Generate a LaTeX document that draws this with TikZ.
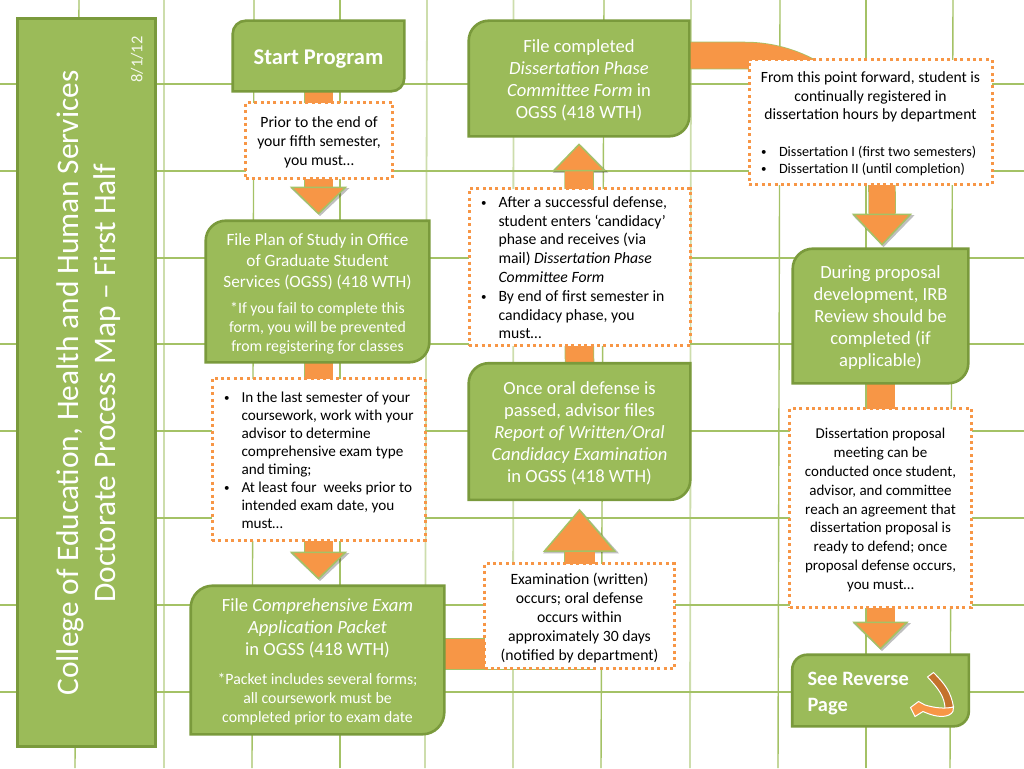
\documentclass[tikz,border=0pt]{standalone}
\usepackage{fontspec}
\setmainfont{Carlito}
\usetikzlibrary{arrows.meta,positioning}
\definecolor{boxgreen}{HTML}{9BBB59}
\definecolor{edgegreen}{HTML}{7A9A3C}
\definecolor{gridgreen}{HTML}{A4C266}
\definecolor{gridpale}{HTML}{CDDDAC}
\definecolor{arrorange}{HTML}{F79646}
\definecolor{turnbrown}{HTML}{C4722C}
\pgfdeclarelayer{under}
\pgfsetlayers{under,main}
\newdimen\dgxa \newdimen\dgya \newdimen\dgxb \newdimen\dgyb
\def\diagrad{12pt}
\makeatletter
\pgfdeclareshape{diagrect}{
  \inheritsavedanchors[from=rectangle]
  \inheritanchorborder[from=rectangle]
  \inheritanchor[from=rectangle]{center}
  \inheritanchor[from=rectangle]{text}
  \inheritanchor[from=rectangle]{base}
  \inheritanchor[from=rectangle]{mid}
  \inheritanchor[from=rectangle]{north}
  \inheritanchor[from=rectangle]{south}
  \inheritanchor[from=rectangle]{east}
  \inheritanchor[from=rectangle]{west}
  \backgroundpath{
    \southwest \dgxa=\pgf@x \dgya=\pgf@y
    \northeast \dgxb=\pgf@x \dgyb=\pgf@y
    \pgfpathmoveto{\pgfpoint{\dgxa}{\dgya}}
    \pgfpathlineto{\pgfpoint{\dgxa}{\dgyb-\diagrad}}
    \pgfpatharc{180}{90}{\diagrad}
    \pgfpathlineto{\pgfpoint{\dgxb}{\dgyb}}
    \pgfpathlineto{\pgfpoint{\dgxb}{\dgya+\diagrad}}
    \pgfpatharc{0}{-90}{\diagrad}
    \pgfpathclose
  }
}
\makeatother
\newcommand{\greensize}{\fontsize{18.6}{22}\selectfont}
\newcommand{\notesize}{\fontsize{15.8}{19}\selectfont}
\newcommand{\dotmark}{\raisebox{.8pt}{\fontsize{11}{11}\selectfont\textbullet}}
\newcommand{\blt}{\hspace*{3pt}\makebox[17.5pt][l]{\dotmark}}
\newcommand{\ind}{\hspace*{20.5pt}}
\tikzset{diag radius/.code={\def\diagrad{#1}}}
\tikzset{droptext/.style={execute at begin node={\rule{0pt}{#1}}}}
\tikzset{greenbox/.style={shape=diagrect,draw=edgegreen,fill=boxgreen,line width=2.6pt,inner sep=0pt,text=white,align=flush center,font=\greensize,
  droptext=20.6pt,execute at end node={\rule[-7pt]{0pt}{7pt}}}}
\tikzset{dotbox/.style={rectangle,draw=arrorange,fill=white,line width=3pt,dash pattern=on 3pt off 3.4pt,inner sep=0pt,text=black,align=flush center,
  droptext=17pt,execute at end node={\rule[-5pt]{0pt}{5pt}}}}
\tikzset{flowarrow/.style n args={4}{draw=arrorange,line width=#1,
  -{Triangle[width=#2,length=#3,line width=1.5pt,color=gridgreen,fill=arrorange]},shorten >=#4,
  preaction={draw=black,opacity=.25,-{Triangle[width=#2,length=#3]},transform canvas={shift={(1.5pt,-1.5pt)}}},
  preaction={draw=gridgreen,line width=#1+1.5pt,-,shorten >=#4+#3}}}
\tikzset{gridline/.style={draw=gridgreen,line width=1.4pt}}
\tikzset{paleline/.style={draw=gridpale,line width=1.8pt}}
\begin{document}
\begin{tikzpicture}[x=1pt,y=-1pt]
\path[use as bounding box] (0,0) rectangle (1024,768);
% left bar
\node (bar) [rectangle,draw=edgegreen,fill=boxgreen,line width=3pt,minimum width=138pt,minimum height=727pt,inner sep=0pt] at (86,382.5) {};
\node (title) [rotate=90,text=white,align=center,font=\fontsize{31.4}{37.5}\selectfont] at (88.5,383) {College of Education, Health and Human Services\\Doctorate Process Map -- First Half};
\node (date) [rotate=90,text=white!90!boxgreen,font=\fontsize{16.5}{20}\selectfont] at (137,59.5) {8/1/12};
% first column
\node (start) [greenbox,diag radius=13pt,text width=169pt,minimum height=68pt,droptext=23pt,font=\bfseries\fontsize{22.5}{26}\selectfont] at (318.5,56) {Start Program};
\node (prior) [dotbox,text width=147pt,minimum height=76pt,font=\fontsize{15.7}{19}\selectfont] at (319,140.5) {Prior to the end of\\your fifth semester,\\you must\dots};
\node (plan) [greenbox,diag radius=20pt,text width=221pt,minimum height=139pt,droptext=21pt,font=\fontsize{17.2}{20.6}\selectfont] at (317.5,291.5) {File Plan of Study in Office\\of Graduate Student\\Services (OGSS) (418 WTH)\par\vspace{7pt}\notesize *If you fail to complete this\\form, you will be prevented\\[-1.6pt]from registering for classes};
\node (last) [dotbox,align=flush left,text width=195pt,inner xsep=9pt,minimum height=162pt,font=\fontsize{15.2}{18.1}\selectfont] at (318.5,459.5) {\blt In the last semester of your\\\ind coursework, work with your\\\ind advisor to determine\\\ind comprehensive exam type\\\ind and timing;\\\blt At least four\ \ weeks prior to\\\ind intended exam date, you\\\ind must\dots};
\node (packet) [greenbox,diag radius=22pt,text width=251pt,minimum height=146pt,droptext=21pt] at (317.5,660) {File \emph{Comprehensive Exam}\\\emph{Application Packet}\\in OGSS (418 WTH)\par\vspace{10pt}\notesize *Packet includes several forms;\\all coursework must be\\[-3pt]completed prior to exam date};
% second column
\node (form) [greenbox,diag radius=20pt,text width=218pt,minimum height=113pt] at (579,78.5) {File completed\\\emph{Dissertation Phase}\\\emph{Committee Form} in\\OGSS (418 WTH)};
\node (after) [dotbox,align=flush left,text width=203pt,inner xsep=9pt,minimum height=157pt,droptext=16pt,font=\fontsize{15.7}{18.8}\selectfont] at (579.5,267) {\blt After a successful defense,\\\ind student enters `candidacy'\\\ind phase and receives (via\\\ind mail) \emph{Dissertation Phase}\\\ind \emph{Committee Form}\\\blt By end of first semester in\\\ind candidacy phase, you\\\ind must\dots};
\node (oral) [greenbox,diag radius=20pt,text width=219pt,minimum height=134pt] at (579.5,431.5) {Once oral defense is\\passed, advisor files\\\emph{Report of Written/Oral}\\\emph{Candidacy Examination}\\in OGSS (418 WTH)};
\node (exam) [dotbox,text width=190pt,minimum height=105pt,font=\fontsize{15.7}{19}\selectfont] at (579.5,616) {Examination (written)\\occurs; oral defense\\occurs within\\approximately 30 days\\(notified by department)};
% third column
\node (forward) [dotbox,align=flush left,text width=229pt,inner xsep=7pt,minimum height=125pt,droptext=15pt,font=\fontsize{15.6}{18.6}\selectfont] at (870.5,122) {\makebox[229pt]{From this point forward, student is}\\\makebox[229pt]{continually registered in}\\\makebox[229pt]{dissertation hours by department}\par\vspace{20pt}\fontsize{14.2}{17}\selectfont\hspace*{5pt}\makebox[18pt][l]{\dotmark}Dissertation I (first two semesters)\\[-1.6pt]\hspace*{5pt}\makebox[18pt][l]{\dotmark}Dissertation II (until completion)};
\node (during) [greenbox,diag radius=20pt,text width=173pt,minimum height=132pt] at (880.5,316) {During proposal\\development, IRB\\Review should be\\completed (if\\applicable)};
\node (meeting) [dotbox,text width=182pt,minimum height=199pt,font=\fontsize{15}{18.9}\selectfont] at (880.5,508) {Dissertation proposal\\meeting can be\\conducted once student,\\advisor, and committee\\reach an agreement that\\dissertation proposal is\\ready to defend; once\\proposal defense occurs,\\you must\dots};
\node (reverse) [greenbox,diag radius=15pt,align=flush left,text width=146pt,minimum height=69pt,inner xsep=14pt,droptext=23pt,font=\bfseries\fontsize{20.4}{26}\selectfont] at (880.5,690.5) {See Reverse\\Page};
% turn-back mark
\draw[draw=white,line width=1pt,fill=turnbrown] (927.5,677) .. controls (938,688) and (945,697) .. (945,709) -- (953.5,707) .. controls (951,692) and (945,684) .. (933.5,672.5) -- cycle;
\draw[draw=white,line width=1pt,fill=arrorange] (953.5,707) .. controls (945,709) and (935,708) .. (925,705) -- (918.5,701.5) -- (910.5,707.5) -- (915,716.5) -- (923,711.5) .. controls (933,716) and (942,718) .. (949,715) .. controls (953,713) and (954,710) .. (953.5,707) -- cycle;
%
\begin{pgfonlayer}{under}
\path[paleline] (164,0) -- (164,768);
\path[gridline] (79,0) -- (75,768);
\path[gridline] (254,0) -- (252,768);
\path[gridline] (340,0) -- (340,768);
\path[paleline] (427,0) -- (425,768);
\path[paleline] (513.5,0) -- (513,768);
\path[gridline] (604,0) -- (601,768);
\path[paleline] (691,0) -- (690,768);
\path[gridline] (780,0) -- (778,768);
\path[gridline] (866,0) -- (866,768);
\path[gridline] (953,0) -- (950,768);
\path[gridline] (0,84) -- (1024,84);
\path[gridline] (0,171) -- (1024,171);
\path[gridline] (0,258) -- (1024,258);
\path[gridline] (0,344) -- (1024,344);
\path[gridline] (0,431) -- (1024,431);
\path[gridline] (0,518) -- (1024,518);
\path[gridline] (0,605) -- (1024,605);
\path[gridline] (0,692) -- (1024,692);
%
\coordinate (packout) at (444,654);
\coordinate (formout) at (689,55.5);
\coordinate (bendtop) at (745,55.5);
\coordinate (bendend) at (882,193);
\draw[flowarrow={28pt}{57pt}{28pt}{6pt}] (start.south) -- (start.south |- plan.north);
\draw[flowarrow={28pt}{57pt}{28pt}{6pt}] (start.south |- plan.south) -- (start.south |- packet.north);
\draw[flowarrow={30pt}{73pt}{43pt}{9pt}] (packout) -| (oral.south);
\draw[flowarrow={28pt}{54pt}{28pt}{7pt}] (oral.north) -- (form.south);
\draw[flowarrow={26pt}{60pt}{32pt}{3pt}] (formout) -- (bendtop) .. controls (820,55.5) and (882,118) .. (bendend) -- (bendend |- during.north);
\draw[flowarrow={28pt}{56pt}{28pt}{5pt}] (during.south) -- (reverse.north);
\end{pgfonlayer}
\end{tikzpicture}
\end{document}
